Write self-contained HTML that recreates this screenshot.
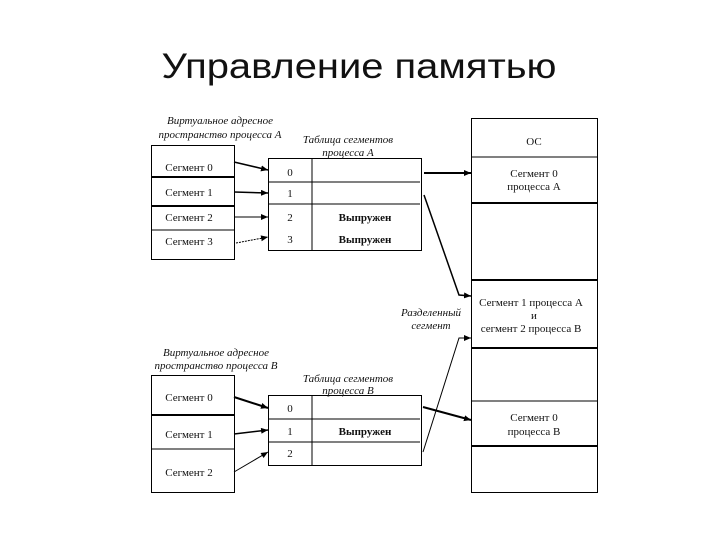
<!DOCTYPE html>
<html><head><meta charset="utf-8"><style>
html,body{margin:0;padding:0;background:#fff;width:720px;height:540px;overflow:hidden}
svg{display:block}
text{font-family:"Liberation Serif",serif;font-size:11px;fill:#111}
.i{font-style:italic}
.b{font-weight:bold}
</style></head><body>
<svg width="720" height="540" viewBox="0 0 720 540" xmlns="http://www.w3.org/2000/svg">
<defs><marker id="ar" markerWidth="8" markerHeight="8" refX="7" refY="3" orient="auto" markerUnits="userSpaceOnUse"><path d="M0,0 L7,3 L0,6 z" fill="#000"/></marker></defs>
<text x="359" y="78" text-anchor="middle" style="font-family:'Liberation Sans',sans-serif;font-size:35px" textLength="395" lengthAdjust="spacingAndGlyphs">Управление памятью</text>

<g stroke="#000" fill="none">
<!-- VA A -->
<rect x="151.5" y="145.5" width="83" height="114"/>
<line x1="151" y1="177" x2="235" y2="177" stroke-width="2"/>
<line x1="151" y1="206" x2="235" y2="206" stroke-width="2"/>
<line x1="151" y1="230" x2="235" y2="230"/>
<!-- Table A -->
<rect x="268.5" y="158.5" width="153" height="92"/>
<line x1="268" y1="182" x2="420" y2="182"/>
<line x1="268" y1="204" x2="420" y2="204"/>
<line x1="312" y1="158" x2="312" y2="250"/>
<!-- OS -->
<rect x="471.5" y="118.5" width="126" height="374"/>
<line x1="471" y1="157" x2="598" y2="157"/>
<line x1="471" y1="203" x2="598" y2="203" stroke-width="2"/>
<line x1="471" y1="280" x2="598" y2="280" stroke-width="2"/>
<line x1="471" y1="348" x2="598" y2="348" stroke-width="2"/>
<line x1="471" y1="401" x2="598" y2="401"/>
<line x1="471" y1="446" x2="598" y2="446" stroke-width="2"/>
<!-- VA B -->
<rect x="151.5" y="375.5" width="83" height="117"/>
<line x1="151" y1="415" x2="235" y2="415" stroke-width="2"/>
<line x1="151" y1="449" x2="235" y2="449"/>
<!-- Table B -->
<rect x="268.5" y="395.5" width="153" height="70"/>
<line x1="268" y1="419" x2="420" y2="419"/>
<line x1="268" y1="442" x2="420" y2="442"/>
<line x1="312" y1="395" x2="312" y2="465"/>
<!-- arrows A -->
<line x1="234" y1="162" x2="268" y2="170" stroke-width="1.5" marker-end="url(#ar)"/>
<line x1="234" y1="192" x2="268" y2="193" stroke-width="1.5" marker-end="url(#ar)"/>
<line x1="234" y1="217" x2="268" y2="217" marker-end="url(#ar)"/>
<line x1="236" y1="243" x2="268" y2="237" stroke-dasharray="2,1" marker-end="url(#ar)"/>
<line x1="424" y1="173" x2="471" y2="173" stroke-width="2" marker-end="url(#ar)"/>
<polyline points="424,195 459,295 471,296" stroke-width="1.5" marker-end="url(#ar)"/>
<!-- arrows B -->
<line x1="234" y1="397" x2="268" y2="408" stroke-width="2" marker-end="url(#ar)"/>
<line x1="234" y1="434" x2="268" y2="430" stroke-width="1.5" marker-end="url(#ar)"/>
<line x1="234" y1="472" x2="268" y2="452" marker-end="url(#ar)"/>
<line x1="423" y1="407" x2="471" y2="420" stroke-width="2" marker-end="url(#ar)"/>
<polyline points="423,452 459,338 471,338" marker-end="url(#ar)"/>
</g>

<text class="i" x="220" y="124" text-anchor="middle">Виртуальное адресное</text>
<text class="i" x="220" y="138" text-anchor="middle">пространство процесса А</text>
<text class="i" x="348" y="143" text-anchor="middle">Таблица сегментов</text>
<text class="i" x="348" y="156" text-anchor="middle">процесса А</text>
<text x="189" y="171" text-anchor="middle">Сегмент 0</text>
<text x="189" y="196" text-anchor="middle">Сегмент 1</text>
<text x="189" y="221" text-anchor="middle">Сегмент 2</text>
<text x="189" y="245" text-anchor="middle">Сегмент 3</text>
<text x="290" y="176" text-anchor="middle">0</text>
<text x="290" y="197" text-anchor="middle">1</text>
<text x="290" y="221" text-anchor="middle">2</text>
<text x="290" y="243" text-anchor="middle">3</text>
<text class="b" x="365" y="221" text-anchor="middle">Выпружен</text>
<text class="b" x="365" y="243" text-anchor="middle">Выпружен</text>

<text x="534" y="145" text-anchor="middle">ОС</text>
<text x="534" y="177" text-anchor="middle">Сегмент 0</text>
<text x="534" y="190" text-anchor="middle">процесса А</text>
<text x="531" y="306" text-anchor="middle">Сегмент 1 процесса А</text>
<text x="534" y="319" text-anchor="middle">и</text>
<text x="531" y="332" text-anchor="middle">сегмент 2 процесса В</text>
<text x="534" y="421" text-anchor="middle">Сегмент 0</text>
<text x="534" y="435" text-anchor="middle">процесса В</text>
<text class="i" x="431" y="316" text-anchor="middle">Разделенный</text>
<text class="i" x="431" y="329" text-anchor="middle">сегмент</text>

<text class="i" x="216" y="356" text-anchor="middle">Виртуальное адресное</text>
<text class="i" x="216" y="369" text-anchor="middle">пространство процесса В</text>
<text class="i" x="348" y="382" text-anchor="middle">Таблица сегментов</text>
<text class="i" x="348" y="394" text-anchor="middle">процесса В</text>
<text x="189" y="401" text-anchor="middle">Сегмент 0</text>
<text x="189" y="438" text-anchor="middle">Сегмент 1</text>
<text x="189" y="476" text-anchor="middle">Сегмент 2</text>
<text x="290" y="412" text-anchor="middle">0</text>
<text x="290" y="435" text-anchor="middle">1</text>
<text x="290" y="457" text-anchor="middle">2</text>
<text class="b" x="365" y="435" text-anchor="middle">Выпружен</text>
</svg>
</body></html>
